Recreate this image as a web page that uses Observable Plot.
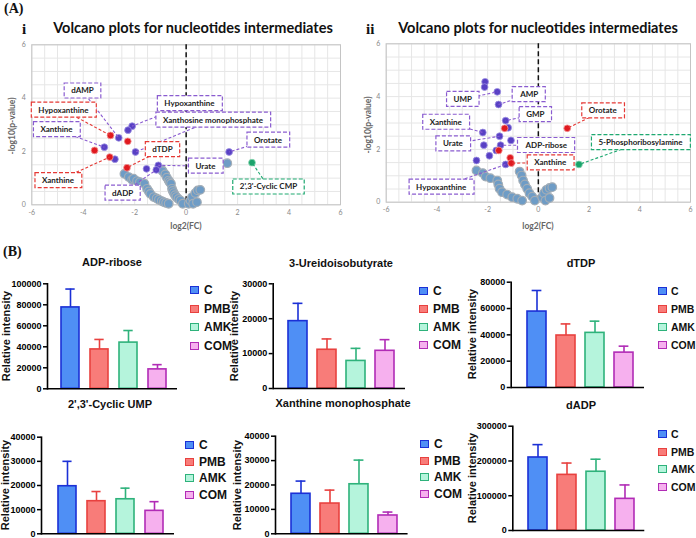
<!DOCTYPE html>
<html><head><meta charset="utf-8">
<script src="https://cdn.jsdelivr.net/npm/d3@7"></script>
<script src="https://cdn.jsdelivr.net/npm/@observablehq/plot@0.6"></script>
<style>
body{margin:0;background:#fff;}
#root{position:relative;width:696px;height:538px;overflow:hidden;background:#fff;}
svg{overflow:visible;}
</style></head><body><div id="root"></div>
<script>
// ---------- DATA ----------
const groups = ["C", "PMB", "AMK", "COM"];
const groupFill = ["#4f8ff5", "#f87c79", "#b5f4dc", "#f6b0ee"];
const groupStroke = ["#1b30d6", "#e8413f", "#2eb27b", "#b12cb6"];

const adpRiboseMean = [77500, 37500, 44000, 18500];
const adpRiboseSD   = [17500, 9500, 11500, 4500];
const ureidoMean = [19300, 11100, 7900, 10800];
const ureidoSD   = [5100, 3100, 3600, 3200];
const dtdpMean = [57700, 39500, 41500, 26500];
const dtdpSD   = [16000, 8800, 8900, 4900];
const cyclicUmpMean = [19700, 13500, 14300, 9500];
const cyclicUmpSD   = [10300, 4000, 4600, 3800];
const xmpMean = [16400, 12400, 20300, 7500];
const xmpSD   = [5200, 5500, 9900, 1400];
const dadpMean = [210000, 160000, 169000, 91000];
const dadpSD   = [37000, 34000, 36000, 40000];

const ticks100k = [0, 20000, 40000, 60000, 80000, 100000];
const ticks30k = [0, 10000, 20000, 30000];
const ticks80k = [0, 20000, 40000, 60000, 80000];
const ticks40k = [0, 10000, 20000, 30000, 40000];
const ticks300k = [0, 100000, 200000, 300000];

const volcanoXTicks = [-6, -4, -2, 0, 2, 4, 6];
const volcanoYTicks = [0, 2, 4, 6];
const volcanoXGrid = [-6,-5.5,-5,-4.5,-4,-3.5,-3,-2.5,-2,-1.5,-1,-0.5,0,0.5,1,1.5,2,2.5,3,3.5,4,4.5,5,5.5,6];
const volcanoYGrid = [0,0.5,1,1.5,2,2.5,3,3.5,4,4.5,5,5.5,6];

// Volcano i
const v1Purple = [[-2.10,2.95],[-2.26,2.80],[-2.62,2.51],[-3.18,2.16],[-1.97,1.98],[-2.77,1.71],[1.67,1.98],[-1.08,1.48],[-1.54,1.35],[-1.16,1.31]];
const v1Red = [[-2.94,2.60],[-2.27,2.38],[-3.56,2.04],[-2.97,1.79],[-2.30,1.39]];
const v1Green = [[2.56,1.58]];
const v1Other = [[1.60,1.56],
  [-2.40,1.16],[-2.23,1.04],[-2.10,0.94],[-2.04,0.98],[-1.91,0.89],[-1.80,0.85],[-1.62,0.79],[-1.52,0.60],[-1.45,0.50],[-1.39,0.41],[-1.26,0.29],[-1.15,0.24],[-1.06,0.19],[-0.95,0.14],[-0.87,0.10],[-0.78,0.07],[-0.68,0.04],
  [-0.95,1.32],[-0.91,1.26],[-0.81,1.14],[-0.75,1.02],[-0.68,0.91],[-0.64,0.85],[-0.59,0.79],[-0.55,0.60],[-0.52,0.52],[-0.48,0.44],[-0.43,0.36],[-0.38,0.29],[-0.30,0.22],[-0.22,0.16],[-0.13,0.04],
  [0.10,0.04],[0.17,0.16],[0.23,0.29],[0.27,0.04],[0.36,0.44],[0.42,0.10],[0.45,0.54],[0.55,0.56]];
const v1Labels = [
  {t:"dAMP", lx:-4.03, ly:4.27, px:-2.62, py:2.51, c:"p"},
  {t:"Hypoxanthine", lx:-4.77, ly:3.55, px:-2.94, py:2.60, c:"r"},
  {t:"Xanthine", lx:-5.04, ly:2.82, px:-3.18, py:2.16, c:"p"},
  {t:"Hypoxanthine", lx:0.13, ly:3.80, px:-2.10, py:2.95, c:"p"},
  {t:"Xanthosine monophosphate", lx:1.04, ly:3.18, px:-1.97, py:1.98, c:"p"},
  {t:"Orotate", lx:3.18, ly:2.43, px:1.67, py:1.98, c:"p"},
  {t:"dTDP", lx:-0.92, ly:2.07, px:-2.30, py:1.39, c:"r"},
  {t:"Urate", lx:0.75, ly:1.45, px:-1.08, py:1.48, c:"p"},
  {t:"dADP", lx:-2.47, ly:0.44, px:-1.16, py:1.31, c:"p"},
  {t:"Xanthine", lx:-4.98, ly:0.91, px:-2.97, py:1.79, c:"r"},
  {t:"2',3'-Cyclic CMP", lx:3.20, ly:0.67, px:2.56, py:1.58, c:"g"}
];

// Volcano ii
const v2Purple = [[-2.10,4.56],[-2.12,4.36],[-1.62,4.18],[-1.57,3.70],[-1.29,3.09],[-1.19,2.82],[-2.19,2.64],[-1.53,2.50],[-1.08,2.34],[-2.15,2.16],[-1.49,2.16],[-1.66,1.96],[-1.93,1.76],[-2.44,1.58],[-1.29,1.43]];
const v2Red = [[-1.33,2.80],[-1.56,1.96],[-1.11,1.68],[-1.07,1.48],[1.14,2.80]];
const v2Green = [[1.60,1.43]];
const v2Other = [
  [-2.44,1.20],[-2.19,1.10],[-2.08,0.97],[-1.89,0.91],[-1.62,0.82],[-1.58,0.67],[-1.53,0.51],[-1.43,0.38],[-1.23,0.29],[-1.03,0.19],[-0.83,0.13],[-0.64,0.06],
  [-0.74,1.16],[-0.66,1.01],[-0.60,0.82],[-0.53,0.67],[-0.44,0.51],[-0.35,0.34],[-0.24,0.21],[-0.14,0.06],
  [0.15,0.19],[0.22,0.34],[0.32,0.47],[0.44,0.54],[0.55,0.57],[0.28,0.06],[0.44,0.16]];
const v2Labels = [
  {t:"UMP", lx:-2.98, ly:3.90, px:-1.62, py:4.18, c:"p"},
  {t:"AMP", lx:-0.36, ly:4.08, px:-1.57, py:3.70, c:"p"},
  {t:"GMP", lx:-0.12, ly:3.32, px:-1.29, py:3.09, c:"p"},
  {t:"Orotate", lx:2.54, ly:3.46, px:1.14, py:2.80, c:"r"},
  {t:"Xanthine", lx:-3.65, ly:3.03, px:-2.19, py:2.64, c:"p"},
  {t:"Urate", lx:-3.37, ly:2.21, px:-1.53, py:2.50, c:"p"},
  {t:"ADP-ribose", lx:0.31, ly:2.15, px:-1.49, py:2.16, c:"p"},
  {t:"5-Phosphoribosylamine", lx:4.03, ly:2.26, px:1.60, py:1.43, c:"g"},
  {t:"Xanthine", lx:0.47, ly:1.49, px:-1.07, py:1.48, c:"r"},
  {t:"Hypoxanthine", lx:-3.83, ly:0.57, px:-1.29, py:1.43, c:"p"}
];

// ---------- HELPERS ----------
const root = document.getElementById("root");
const NS = "http://www.w3.org/2000/svg";
const labelColor = {p: "#8a5cd0", r: "#e53935", g: "#1fa971"};
const SANS = "font-family:'Liberation Sans',Arial,sans-serif;font-weight:bold;";

function place(node, left, top) {
  const d = document.createElement("div");
  d.style.cssText = `position:absolute;left:${left}px;top:${top}px;`;
  d.appendChild(node);
  root.appendChild(d);
}
function label(text, cx, cy, css, opts = {}) {
  const d = document.createElement("div");
  d.textContent = text;
  d.style.cssText = `position:absolute;left:${cx}px;top:${cy}px;white-space:nowrap;line-height:1;${css}`;
  const tx = opts.anchor === "start" ? "0" : "-50%";
  d.style.transform = `translate(${tx},-50%)${opts.rotate ? " rotate(-90deg)" : ""}`;
  root.appendChild(d);
  if (opts.fit) {
    const fs = parseFloat(d.style.fontSize);
    const w = d.getBoundingClientRect().width;
    d.style.fontSize = (fs * opts.fit / w) + "px";
  }
  return d;
}

function volcano(cfg) {
  const pts = a => a.map(([x, y]) => ({x, y}));
  const svg = Plot.plot({
    width: cfg.width, height: cfg.height,
    marginLeft: cfg.ml, marginRight: cfg.mr, marginTop: cfg.mt, marginBottom: cfg.mb,
    x: {domain: [-6, 6], axis: null, label: null},
    y: {domain: [0, 6], axis: null, label: null},
    style: {fontFamily: "Lato, 'Open Sans', sans-serif", fontSize: "7px", color: "#888", background: "transparent"},
    marks: [
      Plot.gridX(volcanoXGrid, {stroke: "#e6e6e6", strokeOpacity: 1}),
      Plot.gridY(volcanoYGrid, {stroke: "#e6e6e6", strokeOpacity: 1}),
      Plot.frame({stroke: "#c4c4c4"}),
      Plot.axisX(volcanoXTicks, {tickSize: 0, tickPadding: 5, label: null, tickFormat: d => String(d)}),
      Plot.axisY(volcanoYTicks, {tickSize: 0, tickPadding: 6, label: null, tickFormat: d => String(d)}),
      Plot.ruleX([0], {stroke: "#111", strokeWidth: 1.5, strokeDasharray: "5,3"}),
      Plot.dot(pts(cfg.other), {x: "x", y: "y", r: 4.3, fill: "#6e9cc6", stroke: "#a3adb6", strokeWidth: 1.2}),
      Plot.dot(pts(cfg.purple), {x: "x", y: "y", r: 3.4, fill: "#5840c4", stroke: "#9d90e2", strokeWidth: 0.8}),
      Plot.dot(pts(cfg.red), {x: "x", y: "y", r: 3.4, fill: "#e0191f", stroke: "#f29a9a", strokeWidth: 0.8}),
      Plot.dot(pts(cfg.green), {x: "x", y: "y", r: 3.4, fill: "#1aa36b", stroke: "#86d6b0", strokeWidth: 0.8}),
      Plot.link(cfg.labels, {x1: "lx", y1: "ly", x2: "px", y2: "py", stroke: d => labelColor[d.c], strokeWidth: 1.1, strokeDasharray: "3,2"}),
      Plot.text(cfg.labels, {x: "lx", y: "ly", text: "t", fill: "#222", fontWeight: "bold", fontSize: 8})
    ]
  });
  place(svg, cfg.left, cfg.top);
  const g = svg.querySelector('g[aria-label="text"]');
  if (g) {
    g.querySelectorAll("text").forEach((t, i) => {
      const bb = t.getBBox();
      const r = document.createElementNS(NS, "rect");
      r.setAttribute("x", bb.x - 7);
      r.setAttribute("y", bb.y - 2.5);
      r.setAttribute("width", bb.width + 14);
      r.setAttribute("height", bb.height + 5);
      r.setAttribute("fill", "white");
      r.setAttribute("stroke", labelColor[cfg.labels[i].c]);
      r.setAttribute("stroke-width", "1.2");
      r.setAttribute("stroke-dasharray", "4,2");
      const tr = t.getAttribute("transform");
      if (tr) r.setAttribute("transform", tr);
      g.insertBefore(r, t);
    });
  }
}

function barPanel(cfg) {
  const data = groups.map((g, i) => ({g, v: cfg.mean[i], e: cfg.mean[i] + cfg.sd[i], fill: groupFill[i], stroke: groupStroke[i]}));
  const width = cfg.frameRight - cfg.left + 4;
  const height = cfg.yZeroPx - cfg.top + 6;
  const p = (cfg.step - cfg.bw) / cfg.step;
  const a = cfg.firstBar - cfg.left - cfg.step * p;
  const b = a + cfg.step * (4 + p);
  const svg = Plot.plot({
    width, height,
    marginLeft: cfg.axisX - cfg.left, marginRight: width - (cfg.frameRight - cfg.left),
    marginTop: cfg.yTopPx - cfg.top, marginBottom: 6,
    x: {domain: groups, range: [a, b], padding: p, align: 0.5, axis: null, label: null},
    y: {domain: [0, cfg.yMax], axis: null, label: null},
    style: {fontFamily: "'Liberation Sans', Arial, sans-serif", fontSize: "9px", fontWeight: "bold", color: "black", background: "transparent"},
    marks: [
      Plot.ruleX(data, {x: "g", y1: "v", y2: "e", stroke: d => d.stroke, strokeWidth: 1.6}),
      Plot.tickY(data, {x: "g", y: "e", stroke: d => d.stroke, strokeWidth: 1.6, insetLeft: cfg.bw * 0.24, insetRight: cfg.bw * 0.24}),
      Plot.barY(data, {x: "g", y: "v", fill: d => d.fill, stroke: d => d.stroke, strokeWidth: 1.6}),
      Plot.axisY(cfg.ticks, {tickSize: 4, tickPadding: 2, strokeWidth: 1.5, label: null, tickFormat: d => String(d)}),
      Plot.frame({anchor: "left", stroke: "black", strokeWidth: 1.6}),
      Plot.ruleY([0], {stroke: "black", strokeWidth: 1.6})
    ]
  });
  place(svg, cfg.left, cfg.top);
  label(cfg.title, cfg.titleX, cfg.titleY, SANS + "font-size:11px;color:#111;");
  label("Relative intensity", cfg.ylabX, (cfg.yTopPx + cfg.yZeroPx) / 2, SANS + "font-size:11px;color:#111;", {rotate: true});
  const lfs = cfg.legFont || 12;
  groups.forEach((g, i) => {
    const y = cfg.legY + i * cfg.legDy;
    const sq = document.createElement("div");
    sq.style.cssText = `position:absolute;left:${cfg.legX}px;top:${y - 4}px;width:9px;height:8px;box-sizing:border-box;background:${groupFill[i]};border:1.6px solid ${groupStroke[i]};`;
    root.appendChild(sq);
    label(g, cfg.legX + (cfg.legGap || 14), y, SANS + `font-size:${lfs}px;color:#111;`, {anchor: "start"});
  });
}

// ---------- PANEL (A) ----------
label("(A)", 4, 9, "font-family:'Liberation Serif',serif;font-weight:bold;font-size:14px;color:#111;", {anchor: "start"});
label("i", 22, 29, "font-family:'Liberation Serif',serif;font-weight:bold;font-size:15px;color:#111;", {anchor: "start"});
label("ii", 366, 29, "font-family:'Liberation Serif',serif;font-weight:bold;font-size:15px;color:#111;", {anchor: "start"});
label("Volcano plots for nucleotides intermediates", 193, 28, "font-family:Lato,sans-serif;font-weight:bold;font-size:14px;color:#111;", {fit: 280});
label("Volcano plots for nucleotides intermediates", 538, 28, "font-family:Lato,sans-serif;font-weight:bold;font-size:14px;color:#111;", {fit: 280});

volcano({left: 0, top: 0, width: 345, height: 235, ml: 31.3, mr: 5, mt: 44.3, mb: 30.7,
  purple: v1Purple, red: v1Red, green: v1Green, other: v1Other, labels: v1Labels});
volcano({left: 345, top: 0, width: 351, height: 235, ml: 40.7, mr: 6, mt: 43.3, mb: 33.3,
  purple: v2Purple, red: v2Red, green: v2Green, other: v2Other, labels: v2Labels});

const axStyle = "font-family:Lato,sans-serif;font-weight:bold;font-size:8.5px;color:#666;";
label("-log10(p-value)", 12, 126, axStyle, {rotate: true});
label("-log10(p-value)", 368, 125, axStyle, {rotate: true});
label("log2(FC)", 186, 226, axStyle);
label("log2(FC)", 538, 226, axStyle);

// ---------- PANEL (B) ----------
label("(B)", 3, 252, "font-family:'Liberation Serif',serif;font-weight:bold;font-size:14px;color:#111;", {anchor: "start"});

barPanel({title: "ADP-ribose", mean: adpRiboseMean, sd: adpRiboseSD, ticks: ticks100k, yMax: 100000,
  left: 0, top: 270, axisX: 47, yTopPx: 283.3, yZeroPx: 388.3, firstBar: 61, step: 29, bw: 18, frameRight: 177,
  titleX: 112, titleY: 262, ylabX: 6, legX: 190, legY: 290, legDy: 18.6});
barPanel({title: "3-Ureidoisobutyrate", mean: ureidoMean, sd: ureidoSD, ticks: ticks30k, yMax: 30000,
  left: 225, top: 270, axisX: 272.7, yTopPx: 283.3, yZeroPx: 388, firstBar: 287.7, step: 29.3, bw: 19, frameRight: 405,
  titleX: 341, titleY: 263, ylabX: 234, legX: 419, legY: 290.5, legDy: 18.3});
barPanel({title: "dTDP", mean: dtdpMean, sd: dtdpSD, ticks: ticks80k, yMax: 80000,
  left: 460, top: 270, axisX: 510.7, yTopPx: 281.7, yZeroPx: 387, firstBar: 526.7, step: 29.4, bw: 19.3, frameRight: 644,
  titleX: 581, titleY: 263, ylabX: 472, legX: 658, legY: 290.5, legDy: 18.3, legFont: 10.5, legGap: 13});
barPanel({title: "2',3'-Cyclic UMP", mean: cyclicUmpMean, sd: cyclicUmpSD, ticks: ticks40k, yMax: 40000,
  left: 0, top: 415, axisX: 41, yTopPx: 436.7, yZeroPx: 533.3, firstBar: 57.3, step: 29.2, bw: 18.5, frameRight: 174,
  titleX: 110, titleY: 404, ylabX: 5, legX: 185, legY: 445, legDy: 16.5});
barPanel({title: "Xanthine monophosphate", mean: xmpMean, sd: xmpSD, ticks: ticks40k, yMax: 40000,
  left: 225, top: 415, axisX: 275, yTopPx: 435.7, yZeroPx: 533.3, firstBar: 290, step: 29.4, bw: 19, frameRight: 407.6,
  titleX: 343, titleY: 403, ylabX: 237, legX: 420, legY: 444, legDy: 16.5});
barPanel({title: "dADP", mean: dadpMean, sd: dadpSD, ticks: ticks300k, yMax: 300000,
  left: 460, top: 415, axisX: 512.3, yTopPx: 425.7, yZeroPx: 530, firstBar: 528.3, step: 29, bw: 18.5, frameRight: 644.3,
  titleX: 581, titleY: 405, ylabX: 472, legX: 658, legY: 434, legDy: 17.7, legFont: 10.5, legGap: 13});
</script></body></html>
